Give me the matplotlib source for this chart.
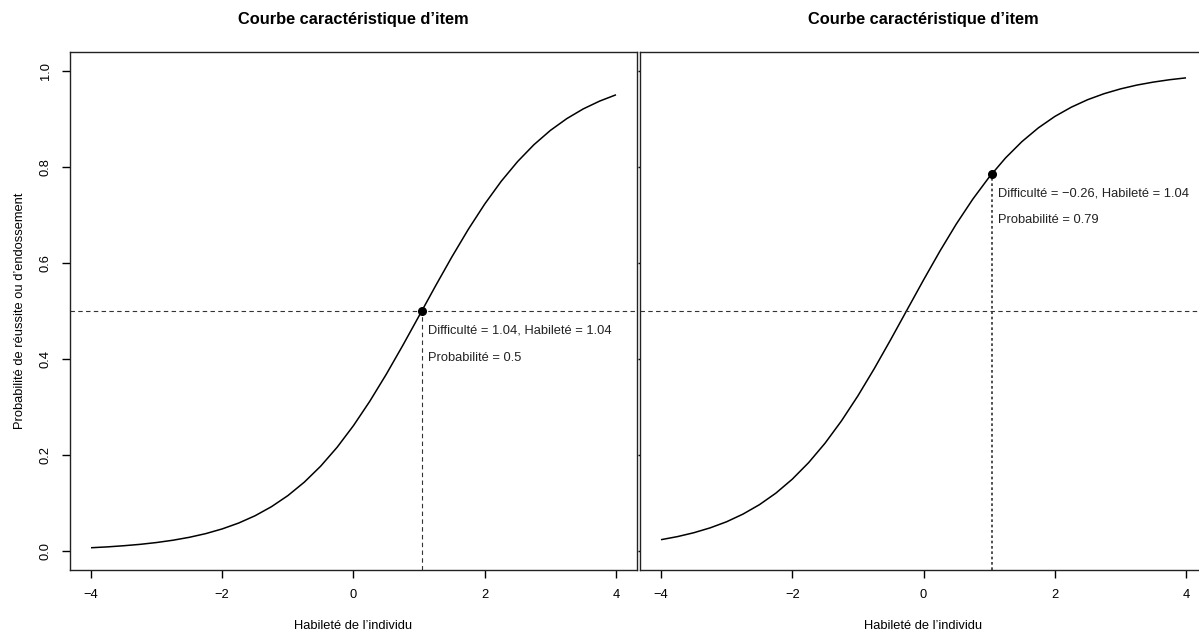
import numpy as np
import matplotlib
matplotlib.use("Agg")
import matplotlib.pyplot as plt

plt.rcParams['font.family'] = ['Liberation Sans', 'DejaVu Sans']

# ---- data ----
ability_grid = np.arange(-4, 4.001, 0.25)
prob_left = [0.0064, 0.0082, 0.0106, 0.0135, 0.0173, 0.0221, 0.0282, 0.0359,
             0.0457, 0.0579, 0.0731, 0.0920, 0.1151, 0.1431, 0.1765, 0.2158,
             0.2611, 0.3122, 0.3682, 0.4280, 0.4900, 0.5523, 0.6130, 0.6704,
             0.7231, 0.7703, 0.8115, 0.8468, 0.8765, 0.9011, 0.9213, 0.9376,
             0.9508]
prob_right = [0.0232, 0.0296, 0.0377, 0.0479, 0.0606, 0.0766, 0.0962, 0.1202,
              0.1493, 0.1839, 0.2244, 0.2709, 0.3230, 0.3799, 0.4403, 0.5025,
              0.5646, 0.6248, 0.6814, 0.7330, 0.7790, 0.8191, 0.8532, 0.8818,
              0.9055, 0.9248, 0.9405, 0.9530, 0.9630, 0.9710, 0.9772, 0.9822,
              0.9861]
difficulty = [1.04, -0.26]
ability = [1.04, 1.04]
point_prob = [0.5, 0.786]
prob_label = ["0.5", "0.79"]
diff_label = ["1.04", "\u22120.26"]
x_ticks = [-4, -2, 0, 2, 4]
y_ticks = [0.0, 0.2, 0.4, 0.6, 0.8, 1.0]
title = "Courbe caractéristique d\u2019item"
xlabel = "Habileté de l\u2019individu"
ylabel = "Probabilité de réussite ou d\u2019endossement"

W, H = 1199, 632
fig = plt.figure(figsize=(W / 100, H / 100), dpi=100)

def frac(x0, y0, x1, y1):
    return [x0 / W, 1 - y1 / H, (x1 - x0) / W, (y1 - y0) / H]

axes = [fig.add_axes(frac(70, 52, 637, 570)),
        fig.add_axes(frac(640, 52, 1207, 570))]
curves = [prob_left, prob_right]

FS = 9.3
for i, ax in enumerate(axes):
    ax.set_xlim(-4.32, 4.32)
    ax.set_ylim(-0.04, 1.04)
    ax.plot(ability_grid, curves[i], color='black', lw=1.1, solid_capstyle='butt')
    ax.axhline(0.5, color='#333333', lw=0.8, ls=(0, (4, 3)))
    vstyle = (0, (4, 3)) if i == 0 else (0, (1.6, 1.6))
    vlw = 0.8 if i == 0 else 1.2
    ax.plot([ability[i], ability[i]], [-0.04, point_prob[i]], color='#333333',
            lw=vlw, ls=vstyle)
    ax.plot([ability[i]], [point_prob[i]], 'o', color='black', ms=5.5)
    ax.text(ability[i] + 0.1, point_prob[i] - 0.04,
            f"Difficulté = {diff_label[i]}, Habileté = {ability[i]:.2f}",
            fontsize=FS, va='center', ha='left', color='#222222')
    ax.text(ability[i] + 0.1, point_prob[i] - 0.097,
            f"Probabilité = {prob_label[i]}",
            fontsize=FS, va='center', ha='left', color='#222222')
    ax.set_xticks(x_ticks)
    ax.set_xticklabels([f"{t:d}".replace('-', '\u2212') for t in x_ticks], fontsize=FS)
    ax.set_yticks(y_ticks)
    ax.tick_params(axis='x', direction='out', length=6, width=1, pad=8)
    for s in ax.spines.values():
        s.set_linewidth(1.0)
        s.set_color('#222222')
    ax.set_xlabel(xlabel, fontsize=FS, labelpad=13.5)
    ax.set_title(title, fontsize=11.8, fontweight='bold', pad=20)

axes[0].set_yticklabels([f"{t:.1f}" for t in y_ticks], fontsize=FS,
                        rotation=90, va='center')
axes[0].tick_params(axis='y', direction='out', length=6, width=1, pad=7)
axes[0].set_ylabel(ylabel, fontsize=FS, labelpad=10)
axes[1].set_yticklabels([])
axes[1].tick_params(axis='y', direction='out', length=1.5, width=1)

fig.savefig("out.png", dpi=100)
